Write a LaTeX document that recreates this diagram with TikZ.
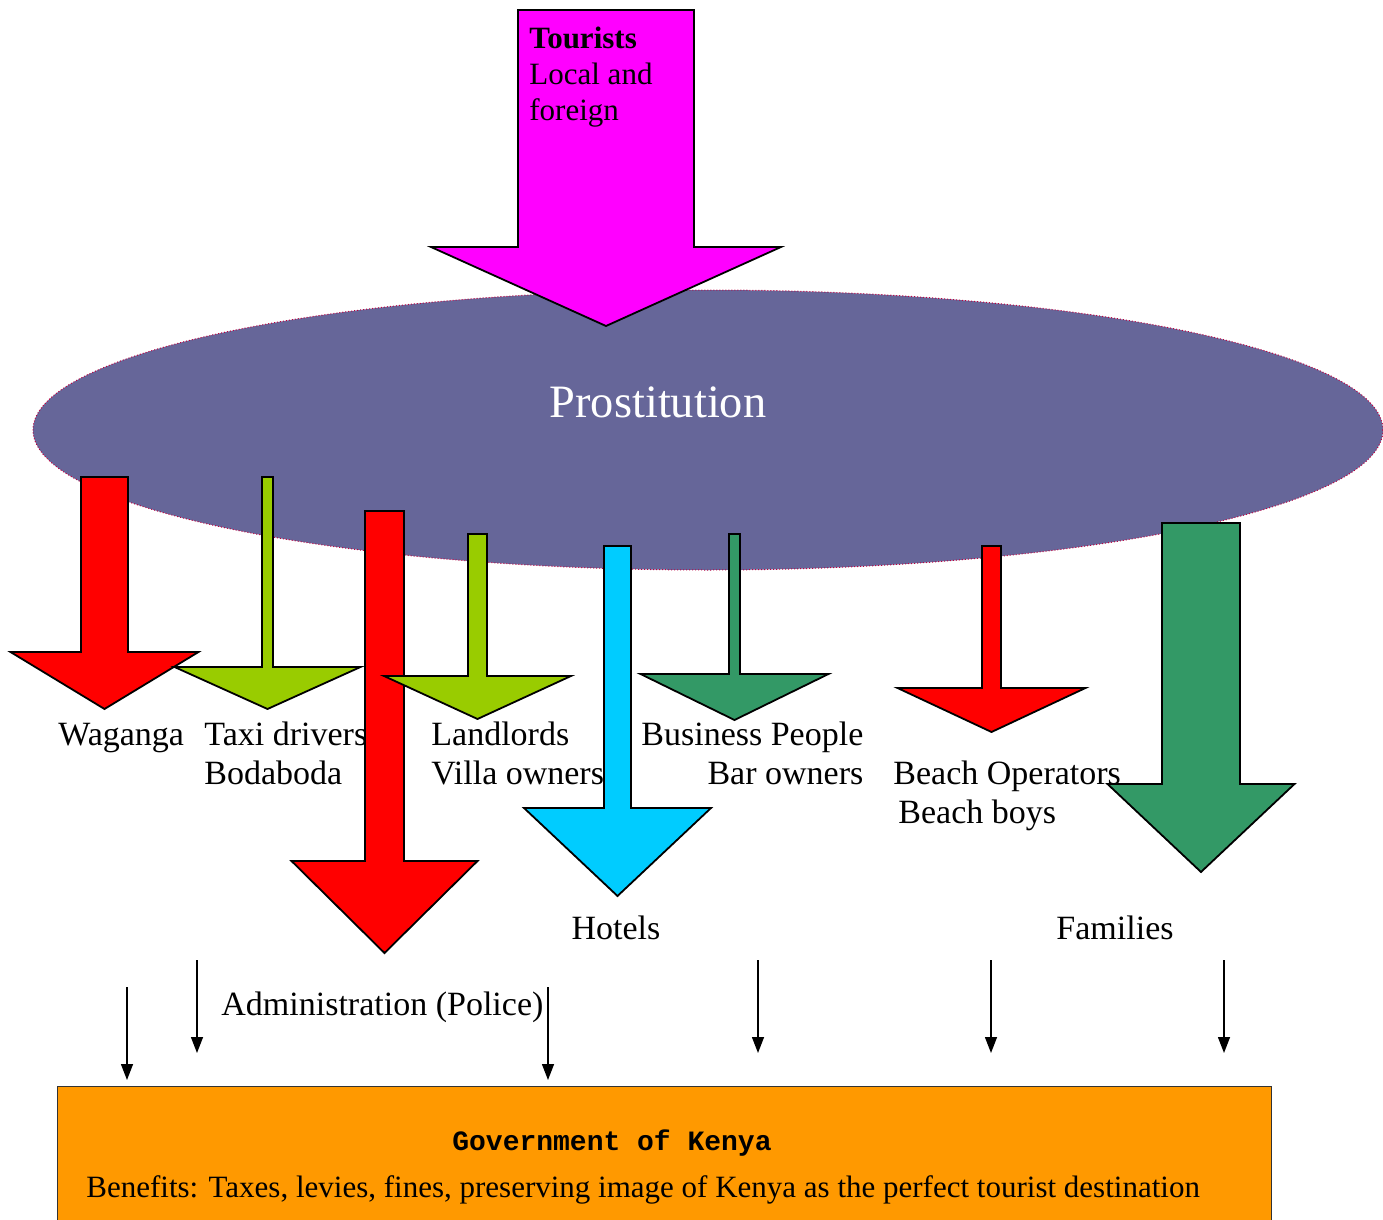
\documentclass[tikz,border=0pt]{standalone}
\usepackage{fontspec}
\setmainfont{Liberation Serif}
\setmonofont{Liberation Mono}
\usepackage{tikz}
\usetikzlibrary{arrows.meta}

\definecolor{tourmag}{HTML}{FF00FF}
\definecolor{prostblue}{HTML}{666699}
\definecolor{arrred}{HTML}{FF0000}
\definecolor{arrlime}{HTML}{99CC00}
\definecolor{arrcyan}{HTML}{00CCFF}
\definecolor{arrsea}{HTML}{339966}
\definecolor{govorange}{HTML}{FF9900}

% block arrow: colour, centre x, top y, half shaft, neck y, half head, tip y
\newcommand{\bigarrow}[7]{%
	\draw [bigarrow, fill=#1] (#2-#4,#3) -- (#2+#4,#3) -- (#2+#4,#5) -- (#2+#6,#5)
		-- (#2,#7) -- (#2-#6,#5) -- (#2-#4,#5) -- cycle;}

\tikzset{
	bigarrow/.style={draw=black, line width=0.9pt, line join=miter},
	label/.style={anchor=base west, inner sep=0pt, font=\fontsize{17}{19.5}\selectfont},
	thinarrow/.style={-{Triangle[width=6pt,length=8pt]}, line width=0.7pt}
}

\begin{document}
\begin{tikzpicture}[x=0.5pt, y=-0.5pt]
		\useasboundingbox (0,0) rectangle (1383,1220);
		\clip (0,0) rectangle (1383,1220);
		
		% the ellipse
		\fill [prostblue] (708,430) ellipse [x radius=675, y radius=140];
		\draw [purple, line width=0.5pt, densely dotted] (708,430) ellipse [x radius=675, y radius=140];
		\node (prost) [anchor=base, text=white, font=\fontsize{23.2}{27}\selectfont] at (658,417) {Prostitution};
		
		% tourists (base = last line)
		\bigarrow{tourmag}{606}{10}{88}{247}{175}{326}
		\node (tourists) [label, align=left, font=\fontsize{15.5}{18}\selectfont] at (529,121)
			{\textbf{Tourists}\\Local and\\foreign};
		
		% labels below the ellipse
		\node (waganga) [label] at (58,745) {Waganga};
		\node (taxi) [label, align=left] at (204,784) {Taxi drivers\\Bodaboda};
		\node (landlords) [label, align=left] at (431,784) {Landlords\\Villa owners};
		\node (business) [label, align=right] at (641,784) {Business People\\Bar owners};
		\node (hotels) [label, anchor=base] at (616,939) {Hotels};
		\node (families) [label, anchor=base] at (1115,939) {Families};
		\node (admin) [label] at (221,1015) {Administration (Police)};
		
		% the beneficiaries
		\bigarrow{arrred}{104.5}{477}{23.5}{652}{94}{709}
		\bigarrow{arrlime}{267.5}{477}{5.5}{667}{93}{709}
		\bigarrow{arrred}{384.5}{511}{19.5}{861}{93}{953}
		\bigarrow{arrlime}{477.5}{534}{9.5}{676}{93.5}{719}
		\bigarrow{arrcyan}{617.5}{546}{13.5}{808}{93.5}{896}
		\bigarrow{arrsea}{734.5}{534}{5.5}{674}{94}{720}
		\bigarrow{arrred}{991.5}{546}{9.5}{688}{94}{732}
		\bigarrow{arrsea}{1201}{523}{39}{784}{93.5}{872}
		
		\node (beach) [label, align=left] at (893,823) {Beach Operators\\\hspace*{2.5pt}Beach boys};
		
		% government
		\node (gov) [draw=black!80, fill=govorange, line width=0.7pt, anchor=north west,
			minimum width=607pt, minimum height=80pt, inner sep=0pt] at (57,1086) {};
		\node (govtitle) [anchor=base, inner sep=0pt, font=\ttfamily\bfseries\fontsize{14}{16}\selectfont]
			at (612,1150) {Government of Kenya};
		\node (benefits) [label, font=\fontsize{15.5}{18}\selectfont] at (86,1197)
			{Benefits: Taxes, levies, fines, preserving image of Kenya as the perfect tourist destination};
		
		\foreach \x/\ya/\yb [count=\i] in {127/987/1080, 197/960/1053, 548/987/1080,
				758/960/1053, 991/960/1053, 1224/960/1053}
		{
			\coordinate (s\i) at (\x,\ya);
			\coordinate (e\i) at (\x,\yb);
			\draw [thinarrow] (s\i) -- (e\i);
		}
	\end{tikzpicture}
\end{document}
